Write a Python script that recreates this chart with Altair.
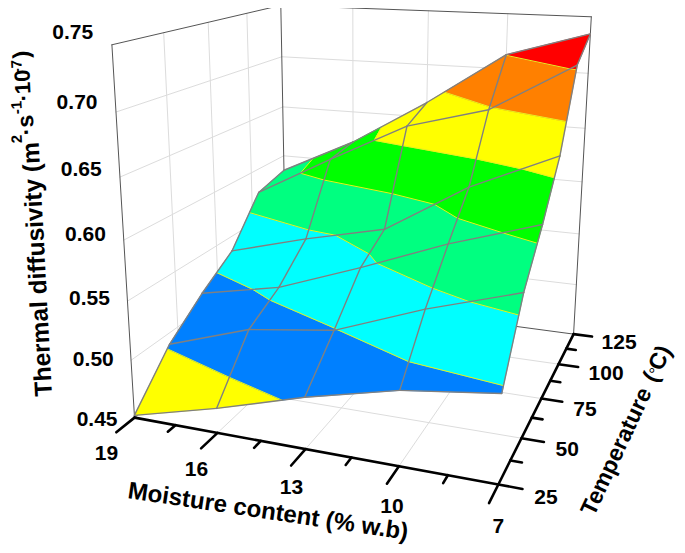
import altair as alt
import numpy as np
import pandas as pd

# ---- values ----
moisture = [19, 16, 13, 10, 7]
temperature = [25, 45, 65, 85, 105, 125]
diffusivity = [
    [0.452, 0.490, 0.515, 0.536, 0.577, 0.585],
    [0.471, 0.514, 0.530, 0.556, 0.616, 0.620],
    [0.493, 0.524, 0.557, 0.573, 0.653, 0.664],
    [0.511, 0.552, 0.586, 0.618, 0.673, 0.713],
    [0.521, 0.575, 0.610, 0.651, 0.716, 0.735],
]
levels = [0.45, 0.4875, 0.525, 0.5625, 0.6, 0.6375, 0.675, 0.7125, 0.75]
band_colors = ["#ffff00", "#0080ff", "#00ffff", "#00ff80", "#00ff00", "#ffff00", "#ff8000", "#ff0000"]
m_ticks = [19, 16, 13, 10, 7]
m_minor = [17.5, 14.5, 11.5, 8.5]
t_ticks = [25, 50, 75, 100, 125]
t_minor = [37.5, 62.5, 87.5, 112.5]
z_ticks = [0.45, 0.50, 0.55, 0.60, 0.65, 0.70, 0.75]

# ---- the 3-D view: a camera matrix ----
CAM = np.array([[-29.012, 2.6834, -1.2385, 692.31],
                [-1.121, -0.38795, -14.237, 1144.9],
                [0.010721, 0.0033608, -0.0034351, 1.0]])


def proj(m, t, z):
    h = CAM @ np.array([m, t, z * 100, 1.0])
    return float(h[0] / h[2] - 8), float(h[1] / h[2] - 8)


def seg(rows, a, b):
    (xa, ya), (xb, yb) = proj(*a), proj(*b)
    rows.append({"x": xa, "y": ya, "x2": xb, "y2": yb})


def clip(poly, level, keep_above):
    out = []
    for i, p in enumerate(poly):
        q = poly[(i + 1) % len(poly)]
        pin = p[2] >= level if keep_above else p[2] <= level
        qin = q[2] >= level if keep_above else q[2] <= level
        if pin:
            out.append(p)
        if pin != qin:
            f = (level - p[2]) / (q[2] - p[2])
            out.append(tuple(p[k] + f * (q[k] - p[k]) for k in range(3)))
    return out


quads = []
for i in range(len(moisture) - 1):
    for j in range(len(temperature) - 1):
        quads.append([
            (moisture[a], temperature[b], diffusivity[a][b])
            for a, b in [(i, j), (i + 1, j), (i + 1, j + 1), (i, j + 1)]
        ])

features, contour_rows = [], []
for q in sorted(quads, key=lambda q: -q[0][1]):
    for k, color in enumerate(band_colors):
        poly = clip(clip(q, levels[k], True), levels[k + 1], False)
        if len(poly) >= 3:
            ring = [list(proj(*p)) for p in poly]
            ring.append(ring[0])
            features.append({"type": "Feature",
                             "geometry": {"type": "Polygon", "coordinates": [ring]},
                             "properties": {"c": color}})
    for lev in levels[1:-1]:
        pts = []
        for i, p in enumerate(q):
            r = q[(i + 1) % 4]
            if (p[2] - lev) * (r[2] - lev) < 0:
                f = (lev - p[2]) / (r[2] - p[2])
                pts.append(tuple(p[k] + f * (r[k] - p[k]) for k in range(3)))
        for a, b in zip(pts[0::2], pts[1::2]):
            seg(contour_rows, a, b)

mesh_rows = []
for i, m in enumerate(moisture):
    for j, t in enumerate(temperature):
        if j < len(temperature) - 1:
            seg(mesh_rows, (m, t, diffusivity[i][j]), (m, temperature[j + 1], diffusivity[i][j + 1]))
        if i < len(moisture) - 1:
            seg(mesh_rows, (m, t, diffusivity[i][j]), (moisture[i + 1], t, diffusivity[i + 1][j]))

grid_rows = []
for z in z_ticks[1:-1]:
    seg(grid_rows, (19, 25, z), (19, 125, z))
    seg(grid_rows, (19, 125, z), (7, 125, z))
for t in t_ticks[1:-1]:
    seg(grid_rows, (19, t, 0.45), (19, t, 0.75))
    seg(grid_rows, (19, t, 0.45), (7, t, 0.45))
for m in m_ticks[1:-1]:
    seg(grid_rows, (m, 125, 0.45), (m, 125, 0.75))
    seg(grid_rows, (m, 25, 0.45), (m, 125, 0.45))

box_rows = []
for a, b in [((19, 25, .45), (19, 25, .75)), ((19, 25, .75), (19, 125, .75)),
             ((19, 125, .75), (7, 125, .75)), ((7, 125, .75), (7, 125, .45)),
             ((19, 125, .75), (19, 125, .45)), ((19, 125, .45), (7, 125, .45)),
             ((19, 25, .45), (19, 125, .45))]:
    seg(box_rows, a, b)

axis_rows = []
seg(axis_rows, (19, 25, .45), (7, 25, .45))
seg(axis_rows, (7, 25, .45), (7, 125, .45))
for m in m_ticks:
    seg(axis_rows, (m, 25, .45), (m, 16, .45))
for m in m_minor:
    seg(axis_rows, (m, 25, .45), (m, 21, .45))
for t in t_ticks:
    seg(axis_rows, (7, t, .45), (6.3, t, .45))
for t in t_minor:
    seg(axis_rows, (7, t, .45), (6.65, t, .45))

label_rows = []
for n, z in enumerate(z_ticks):
    x, y = proj(19, 25, z)
    label_rows.append({"x": x - 17 - n * 0.3, "y": y + 2 - n * 2.3, "t": f"{z:.2f}", "a": "right"})
for n, m in enumerate(m_ticks):
    x, y = proj(m, 25, .45)
    label_rows.append({"x": x - 28 + 7 * n, "y": y + 36 + n * 1.5, "t": str(m), "a": "center"})
for n, t in enumerate(t_ticks):
    x, y = proj(7, t, .45)
    label_rows.append({"x": x + 36 - 2 * n, "y": y + 13 - n, "t": str(t), "a": "left"})


def rules(rows, color, width):
    return alt.Chart(pd.DataFrame(rows)).mark_rule(
        color=color, strokeWidth=width, strokeCap="round"
    ).encode(
        x=alt.X("x:Q", scale=None, axis=None), y=alt.Y("y:Q", scale=None, axis=None),
        x2="x2:Q", y2="y2:Q",
    )


surface = alt.Chart(alt.Data(values=features)).mark_geoshape(strokeWidth=0.7).encode(
    color=alt.Color("properties.c:N", scale=None, legend=None),
    stroke=alt.Stroke("properties.c:N", scale=None, legend=None),
).project(type="identity", scale=1, translate=[0, 0])

FONT = "Liberation Sans"


def label(subset, align):
    return alt.Chart(pd.DataFrame(subset)).mark_text(
        font=FONT, fontWeight="bold", fontSize=21, align=align, baseline="middle", color="#000000"
    ).encode(x=alt.X("x:Q", scale=None, axis=None), y=alt.Y("y:Q", scale=None, axis=None), text="t:N")


tick_layers = [label([r for r in label_rows if r["a"] == a], a) for a in ["right", "center", "left"]]


def free_text(txt, x, y, angle, size=24.0, weight="bold"):
    return alt.Chart(pd.DataFrame({"x": [x - 8], "y": [y - 8], "t": [txt]})).mark_text(
        font=FONT, fontWeight=weight, fontSize=size, align="left", baseline="alphabetic",
        angle=angle, color="#000000"
    ).encode(x=alt.X("x:Q", scale=None, axis=None), y=alt.Y("y:Q", scale=None, axis=None), text="t:N")


ANG = 267
T_ANG = 295
ux, uy = np.cos(np.radians(T_ANG)), np.sin(np.radians(T_ANG))


def along(d):
    return 594 + d * ux, 517 + d * uy


titles = [
    free_text("Thermal diffusivity (m", 52, 396, ANG, size=24.5),
    free_text("2", 22, 143, ANG, size=15),
    free_text("·s", 34, 135, ANG, size=23),
    free_text("-1", 22, 114, ANG, size=15),
    free_text("·10", 31, 101, ANG, size=22),
    free_text("-7", 22, 73, ANG, size=15),
    free_text(")", 29, 58, ANG, size=23),
    free_text("Moisture content (% w.b)", 127, 498, 8.5),
    free_text("Temperature", *along(0), T_ANG, size=23),
    free_text("(", *along(147), T_ANG, size=23),
    free_text("°", *along(154), T_ANG, size=17, weight="normal"),
    free_text("C)", *along(160), T_ANG, size=23),
]

chart = alt.layer(
    rules(grid_rows, "#dcdcdc", 1),
    rules(box_rows, "#555555", 1),
    surface,
    rules(contour_rows, "#e6f020", 1),
    rules(mesh_rows, "#808080", 1.4),
    rules(axis_rows, "#000000", 2.6),
    *tick_layers,
    *titles,
).properties(width=669, height=537, padding=0, autosize="none").configure_view(stroke=None)

chart.save("out.html", embed_options={"renderer": "svg", "actions": False})
